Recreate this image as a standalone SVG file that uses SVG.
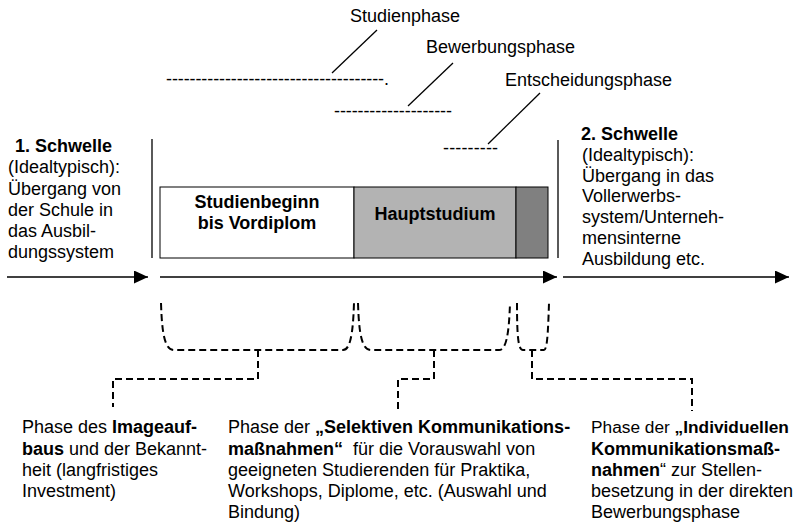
<svg xmlns="http://www.w3.org/2000/svg" width="795" height="527" viewBox="0 0 795 527">
<style>
text{font-family:"Liberation Sans",Arial,sans-serif;font-size:18px;fill:#000}
.b{font-weight:bold}
.ln{stroke:#000;stroke-width:1.3;fill:none}
.ax{stroke:#000;stroke-width:1.5;fill:none}
.dash{stroke:#000;stroke-width:2;fill:none;stroke-dasharray:7 4}
</style>
<defs>
<marker id="ah" viewBox="0 0 14 13" refX="14" refY="6.5" markerWidth="14" markerHeight="13" markerUnits="userSpaceOnUse" orient="auto">
<path d="M0,0 L14,6.5 L0,13 Z" fill="#000"/>
</marker>
</defs>
<g id="phase-labels">
<text x="350" y="22">Studienphase</text>
<text x="426" y="53">Bewerbungsphase</text>
<text x="505" y="86">Entscheidungsphase</text>
<text x="166" y="85" textLength="223" lengthAdjust="spacing">-------------------------------------.</text>
<text x="334" y="117" textLength="118" lengthAdjust="spacing">--------------------</text>
<text x="443" y="154" textLength="55" lengthAdjust="spacing">---------</text>
</g>
<g id="schwelle1">
<text x="15" y="152" class="b">1. Schwelle</text>
<text x="8" y="173">(Idealtypisch):</text>
<text x="8" y="195">Übergang von</text>
<text x="8" y="216">der Schule in</text>
<text x="8" y="237">das Ausbil-</text>
<text x="8" y="258">dungssystem</text>
</g>
<g id="schwelle2">
<text x="581" y="140" class="b">2. Schwelle</text>
<text x="582" y="161">(Idealtypisch):</text>
<text x="582" y="182">Übergang in das</text>
<text x="582" y="202">Vollerwerbs-</text>
<text x="582" y="223">system/Unterneh-</text>
<text x="582" y="244">mensinterne</text>
<text x="582" y="265">Ausbildung etc.</text>
</g>
<g id="studienbeginn">
<rect x="160" y="187" width="194" height="71" fill="#fff" stroke="#000" stroke-width="1"/>
<text x="257" y="208" class="b" text-anchor="middle">Studienbeginn</text>
<text x="257" y="229" class="b" text-anchor="middle">bis Vordiplom</text>
</g>
<g id="hauptstudium">
<rect x="354" y="187" width="162" height="71" fill="#b3b3b3" stroke="#000" stroke-width="1"/>
<text x="435" y="220" class="b" text-anchor="middle">Hauptstudium</text>
</g>
<g id="entscheidung">
<rect x="516" y="187" width="32" height="71" fill="#808080" stroke="#000" stroke-width="1"/>
</g>
<g id="text-image">
<text x="22" y="433">Phase des <tspan class="b">Imageauf-</tspan></text>
<text x="22" y="455"><tspan class="b">baus</tspan> und der Bekannt-</text>
<text x="22" y="476">heit (langfristiges</text>
<text x="22" y="497">Investment)</text>
</g>
<g id="text-selektiv">
<text x="228" y="433">Phase der <tspan class="b">„Selektiven Kommunikations-</tspan></text>
<text x="228" y="455" xml:space="preserve"><tspan class="b">maßnahmen“</tspan>  für die Vorauswahl von</text>
<text x="228" y="476">geeigneten Studierenden für Praktika,</text>
<text x="228" y="497">Workshops, Diplome, etc. (Auswahl und</text>
<text x="228" y="518">Bindung)</text>
</g>
<g id="text-individuell">
<text x="591" y="433" style="font-size:17.3px">Phase der <tspan class="b">„Individuellen</tspan></text>
<text x="591" y="455" class="b">Kommunikationsmaß-</text>
<text x="591" y="476"><tspan class="b">nahmen</tspan>“ zur Stellen-</text>
<text x="591" y="497">besetzung in der direkten</text>
<text x="591" y="518">Bewerbungsphase</text>
</g>
<g id="connectors">
<line class="ln" x1="377" y1="30" x2="332" y2="73"/>
<line class="ln" x1="453" y1="63" x2="408" y2="106"/>
<line class="ln" x1="540" y1="93" x2="488" y2="144"/>
<line class="ln" x1="152" y1="139" x2="152" y2="258"/>
<line class="ln" x1="558" y1="140" x2="558" y2="258"/>
<line class="ax" x1="7" y1="277" x2="148" y2="277" marker-end="url(#ah)"/>
<line class="ax" x1="160" y1="277" x2="557" y2="277" marker-end="url(#ah)"/>
<line class="ax" x1="563" y1="277" x2="789" y2="277" marker-end="url(#ah)"/>
<path class="dash" d="M161,303 C162,335 165,350 174,350 L343,350 C350,350 353,335 354,303"/>
<path class="dash" d="M358,303 C359,335 362,350 371,350 L499,350 C506,350 509,335 510,303"/>
<path class="dash" d="M517,303 C517,335 518,350 523,350 L544,350 C547,350 548,335 549,303"/>
<path class="dash" d="M258,350 L258,379 L113,379 L113,407"/>
<path class="dash" d="M434,350 L434,379 L398,379 L398,409"/>
<path class="dash" d="M532,350 L532,379 L692,379 L692,411"/>
</g>
</svg>
